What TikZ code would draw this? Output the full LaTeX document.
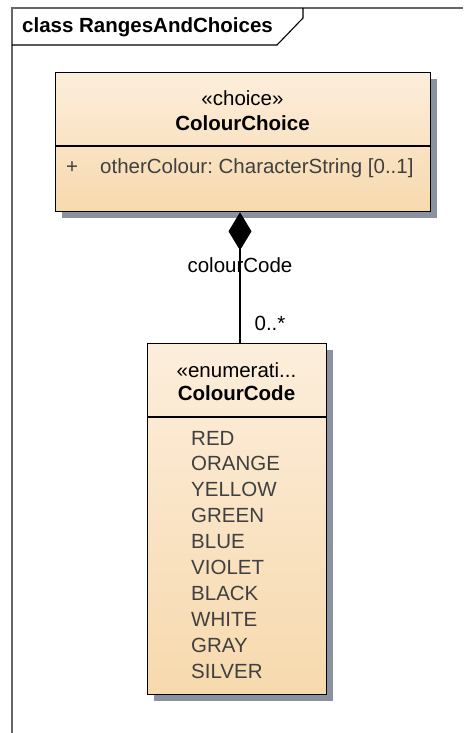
\documentclass[tikz,border=0pt]{standalone}
\usepackage{fontspec}
\setmainfont{Liberation Sans}
\usepackage{tikz}
\usetikzlibrary{arrows.meta, positioning, shadows}
\frenchspacing

\definecolor{boxtop}{HTML}{FCEEDC}
\definecolor{boxbot}{HTML}{F7D9AD}
\definecolor{shadowgray}{HTML}{8A919F}
\definecolor{itemgray}{HTML}{404040}
\definecolor{framegray}{HTML}{666666}

\begin{document}
\begin{tikzpicture}[
      x=1pt, y=-1pt,
      every node/.style={font=\fontsize{20.5}{23}\selectfont, inner sep=0pt},
      classbox/.style={draw, line width=1.3pt, top color=boxtop, bottom color=boxbot,
        drop shadow={shadow xshift=6pt, shadow yshift=-6pt, fill=shadowgray, opacity=1}},
      stereo/.style={text=black},
      cname/.style={font=\fontsize{20.5}{23}\selectfont\bfseries},
      item/.style={text=itemgray, anchor=west},
      comp/.style={{Diamond[length=38pt, width=23pt]}-, line width=1.4pt},
      label/.style={text=black}
    ]
    \useasboundingbox (0,0) rectangle (463,733);
    % diagram frame with name tab
    \draw[framegray, line width=1.4pt] (12,733) -- (12,8) -- (463,8);
    \draw[line width=1.1pt] (12,45) -- (277,45) -- (303,18) -- (303,8);
    \node[cname, anchor=west] (title) at (22,27) {class RangesAndChoices};

    % ColourChoice
    \node[classbox, anchor=north west, minimum width=375pt, minimum height=139pt] (choice) at (55,72) {};
    \draw[line width=1.2pt] (choice.west |- 0,146) -- (choice.east |- 0,146);
    \node[stereo] (choiceSt) at (242.5,98) {«choice»};
    \node[cname, below=25pt of choiceSt.center, anchor=center] (choiceName) {ColourChoice};
    \node[item] (plus) at (66,168) {+};
    \node[item] (otherColour) at (100,168) {otherColour: CharacterString [0..1]};

    % ColourCode
    \node[classbox, anchor=north west, minimum width=179pt, minimum height=351pt] (enum) at (147,343) {};
    \draw[line width=1.2pt] (enum.west |- 0,417) -- (enum.east |- 0,417);
    \node[stereo] (enumSt) at (236.5,370) {«enumerati...};
    \node[cname, below=23pt of enumSt.center, anchor=center] (enumName) {ColourCode};
    \foreach \lit [count=\i from 0] in {RED,ORANGE,YELLOW,GREEN,BLUE,VIOLET,BLACK,WHITE,GRAY,SILVER}
      \node[item] (lit\i) at (191,438+25.9*\i) {\lit};

    % composition
    \coordinate (lnk) at (240,280);
    \draw[comp] (lnk |- choice.south) -- (lnk |- enum.north);
    \node[label] (role) at (240,265) {colourCode};
    \node[label] (mult) at (270,323) {0..*};
  \end{tikzpicture}
\end{document}
